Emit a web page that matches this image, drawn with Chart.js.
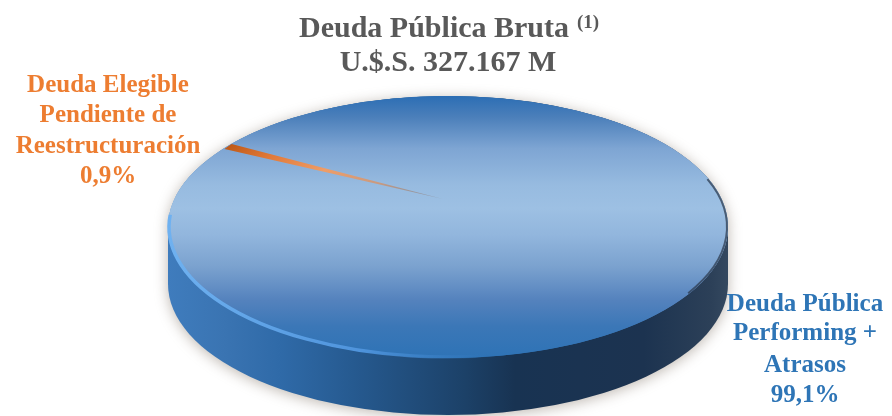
<!DOCTYPE html>
<html>
<head>
<meta charset="utf-8">
<style>html,body{margin:0;padding:0;background:#fff;overflow:hidden}canvas{display:block}</style>
<script src="https://cdn.jsdelivr.net/npm/chart.js@4/dist/chart.umd.min.js"></script>
</head>
<body>
<canvas id="c" width="892" height="416"></canvas>
<script>
const categories = [
  ["Deuda Pública", "Performing +", "Atrasos"],
  ["Deuda Elegible", "Pendiente de", "Reestructuración"]
];
const values = [99.1, 0.9];
const sliceColors = ["#2e75b6", "#ed7d31"];
const titleLines = ["Deuda Pública Bruta", "U.$.S. 327.167 M"];
const titleNote = "(1)";

const TOP = {cx: 448, cy: 227, rx: 280, ry: 131};
const BOTTOM = {cy: 284, rx: 280, ry: 131};
const SLICE = {cx: 443, cy: 199, rx: 249, ry: 104};
const STOPS = [[0,"#2c6eb4"],[.08,"#4b7fba"],[.2,"#7ea5d3"],[.34,"#97bbe0"],[.43,"#9dc0e3"],[.53,"#92b6dd"],
  [.65,"#7ba2cf"],[.78,"#5482bd"],[.88,"#3b77b7"],[1,"#2e73b6"]];

function vertical(ctx, y0, y1) {
  const g = ctx.createLinearGradient(0, y0, 0, y1);
  STOPS.forEach(s => g.addColorStop(s[0], s[1]));
  return g;
}
function geom(chart) {
  const a = chart.chartArea;
  return {x: (a.left + a.right) / 2, y: (a.top + a.bottom) / 2, r: Math.min(a.right - a.left, a.bottom - a.top) / 2};
}
function sliceFill(c) {
  const chart = c.chart;
  if (!chart.chartArea) return sliceColors[c.dataIndex];
  const g = geom(chart), ctx = chart.ctx;
  if (c.dataIndex === 0) return vertical(ctx, g.y - g.r, g.y + g.r);
  const rg = ctx.createRadialGradient(g.x, g.y, 0, g.x, g.y, g.r);
  rg.addColorStop(0, "rgba(120,110,110,0.35)");
  rg.addColorStop(.3, "#c99a80");
  rg.addColorStop(.55, "#ee9d68");
  rg.addColorStop(.8, "#e27a39");
  rg.addColorStop(1, "#bf5a18");
  return rg;
}

const disk3d = {
  id: "disk3d",
  beforeDatasetsDraw(chart) {
    const ctx = chart.ctx, g = geom(chart);
    // edge of the disk with its soft floor shadow
    ctx.save();
    ctx.beginPath();
    ctx.ellipse(TOP.cx, TOP.cy, TOP.rx, TOP.ry, 0, Math.PI, 2 * Math.PI);
    ctx.lineTo(TOP.cx + BOTTOM.rx, BOTTOM.cy);
    ctx.ellipse(TOP.cx, BOTTOM.cy, BOTTOM.rx, BOTTOM.ry, 0, 0, Math.PI);
    ctx.closePath();
    const side = ctx.createLinearGradient(TOP.cx - TOP.rx, 0, TOP.cx + TOP.rx, 0);
    [[0,"#3f7cbd"],[.1,"#3a74b2"],[.2,"#2f6aa8"],[.33,"#265a90"],[.53,"#1c4168"],[.62,"#183352"],
     [.85,"#1c3350"],[.97,"#2c4058"],[1,"#34485f"]].forEach(s => side.addColorStop(s[0], s[1]));
    ctx.shadowColor = "rgba(110,95,80,0.45)";
    ctx.shadowBlur = 14;
    ctx.shadowOffsetY = 2;
    ctx.fillStyle = side;
    ctx.fill();
    ctx.restore();
    // full top surface
    ctx.save();
    ctx.beginPath();
    ctx.ellipse(TOP.cx, TOP.cy, TOP.rx, TOP.ry, 0, 0, 2 * Math.PI);
    ctx.fillStyle = vertical(ctx, TOP.cy - TOP.ry, TOP.cy + TOP.ry);
    ctx.fill();
    ctx.restore();

    // the slices of the pie are squashed onto that surface
    const arcs = chart.getDatasetMeta(0).data;
    const wedge = arcs[1];
    if (!wedge.__patched) {
      const base = wedge.draw;
      wedge.draw = function (c) {
        c.save();
        c.setTransform(1, 0, 0, 1, 0, 0);
        const ratio = chart.currentDevicePixelRatio || 1;
        c.scale(ratio, ratio);
        c.translate(SLICE.cx, SLICE.cy);
        c.scale(SLICE.rx / g.r, SLICE.ry / g.r);
        c.translate(-g.x, -g.y);
        base.call(this, c);
        c.restore();
      };
      wedge.__patched = true;
    }
    ctx.save();
    ctx.translate(TOP.cx, TOP.cy);
    ctx.scale(TOP.rx / g.r, TOP.ry / g.r);
    ctx.translate(-g.x, -g.y);
  },
  afterDatasetsDraw(chart) {
    const ctx = chart.ctx;
    ctx.restore();
    // bright rim, lower left
    ctx.save();
    ctx.beginPath();
    ctx.ellipse(TOP.cx, TOP.cy, TOP.rx - 1, TOP.ry - 1, 0, Math.PI * 0.42, Math.PI * 1.03);
    const hi = ctx.createLinearGradient(TOP.cx - TOP.rx, 0, TOP.cx + 40, 0);
    hi.addColorStop(0, "#6fb1f0");
    hi.addColorStop(.6, "#4f94dc");
    hi.addColorStop(1, "rgba(60,130,200,0)");
    ctx.strokeStyle = hi;
    ctx.lineWidth = 3.5;
    ctx.filter = "blur(0.6px)";
    ctx.stroke();
    // dark rim, right
    ctx.beginPath();
    ctx.ellipse(TOP.cx, TOP.cy, TOP.rx - 1, TOP.ry - 1, 0, -Math.PI * 0.12, Math.PI * 0.17);
    ctx.strokeStyle = "rgba(45,60,80,0.75)";
    ctx.lineWidth = 2;
    ctx.stroke();
    ctx.restore();
    drawTexts(ctx);
  }
};

function drawBlock(ctx, lines, x, baselines, color, size) {
  ctx.fillStyle = color;
  ctx.font = "bold " + size + "px 'Liberation Serif'";
  ctx.textAlign = "center";
  ctx.textBaseline = "alphabetic";
  lines.forEach((t, i) => ctx.fillText(t, x, baselines[i]));
}
function pct(v) { return String(v).replace(".", ",") + "%"; }

function drawTexts(ctx) {
  ctx.save();
  drawBlock(ctx, [...categories[1], pct(values[1])], 108, [92, 122, 153, 183], sliceColors[1], 25);
  drawBlock(ctx, [...categories[0], pct(values[0])], 805, [311, 340, 372, 402], sliceColors[0], 25);
  const grey = "#595959";
  ctx.fillStyle = grey;
  ctx.textAlign = "left";
  ctx.font = "bold 30px 'Liberation Serif'";
  ctx.fillText(titleLines[0], 299, 37);
  ctx.font = "bold 19px 'Liberation Serif'";
  ctx.fillText(titleNote, 577, 28);
  ctx.textAlign = "center";
  ctx.font = "bold 30px 'Liberation Serif'";
  ctx.fillText(titleLines[1], 448, 71);
  ctx.restore();
}

new Chart(document.getElementById("c"), {
  type: "pie",
  data: {
    labels: categories.map(l => l.join(" ")),
    datasets: [{data: values, backgroundColor: sliceFill, borderWidth: 0}]
  },
  options: {
    responsive: false,
    animation: false,
    rotation: 301.9,
    layout: {padding: 0},
    plugins: {legend: {display: false}, tooltip: {enabled: false}, title: {display: false}}
  },
  plugins: [disk3d]
});
</script>
</body>
</html>
